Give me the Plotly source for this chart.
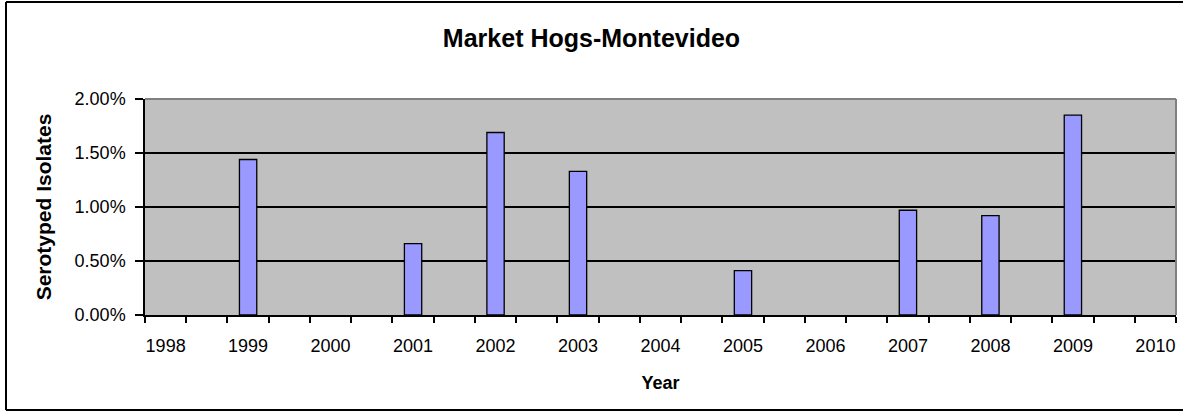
"""Market hogs - Montevideo serotype share by year."""

import plotly.graph_objects as go

# data
years = [1998, 1999, 2000, 2001, 2002, 2003, 2004, 2005, 2006, 2007, 2008, 2009, 2010]
year_labels = [str(y) for y in years]
share = [None, 0.0144, None, 0.0066, 0.0169, 0.0133, None, 0.0041, None, 0.0097, 0.0092, 0.0185, None]
y_ticks = [0.0, 0.005, 0.01, 0.015, 0.02]

FONT = "Liberation Sans, Arial, sans-serif"

trace = go.Bar(
    x=years,
    y=share,
    width=0.21,
    marker={"color": "#9999FF", "line": {"color": "black", "width": 1.3}},
)

layout = go.Layout(
    width=1183,
    height=412,
    margin={"l": 145, "r": 7, "t": 99, "b": 97},
    paper_bgcolor="white",
    plot_bgcolor="#C0C0C0",
    showlegend=False,
    font={"family": FONT, "color": "black", "size": 18},
    title={
        "text": "<b>Market Hogs-Montevideo</b>",
        "font": {"size": 25, "family": FONT},
        "x": 0.5,
        "xanchor": "center",
        "y": 1 - 38 / 412,
        "yanchor": "middle",
        "yref": "container",
    },
    xaxis={
        "range": [1997.75, 2010.25],
        "tickmode": "array",
        "tickvals": years,
        "ticktext": year_labels,
        "ticks": "outside",
        "ticklen": 6,
        "tickcolor": "rgba(0,0,0,0)",
        "ticklabelstandoff": 8,
        "showline": True,
        "linecolor": "black",
        "linewidth": 1.5,
        "showgrid": False,
        "zeroline": False,
        "minor": {
            "ticks": "outside",
            "tick0": 1997.75,
            "dtick": 0.5,
            "ticklen": 6,
            "tickcolor": "black",
            "tickwidth": 1.5,
            "showgrid": False,
        },
        "title": {"text": "<b>Year</b>", "font": {"size": 18}, "standoff": 21},
    },
    yaxis={
        "range": [0, 0.02],
        "tickmode": "array",
        "tickvals": y_ticks,
        "tickformat": ".2%",
        "ticks": "outside",
        "ticklen": 8,
        "tickcolor": "black",
        "tickwidth": 1.5,
        "ticklabelstandoff": 6,
        "showline": True,
        "linecolor": "black",
        "linewidth": 1.5,
        "showgrid": True,
        "gridcolor": "black",
        "gridwidth": 1.5,
        "zeroline": False,
        "title": {"text": "<b>Serotyped Isolates</b>", "font": {"size": 21}, "standoff": 17},
    },
)

fig = go.Figure(data=[trace], layout=layout)

# plot area border (top and right, grey)
fig.add_shape(type="line", xref="paper", yref="paper", x0=0, x1=1, y0=1, y1=1,
              line={"color": "#808080", "width": 2}, layer="above")
fig.add_shape(type="line", xref="paper", yref="paper", x0=1, x1=1, y0=0, y1=1,
              line={"color": "#808080", "width": 2}, layer="above")

# outer chart border: left, top and bottom sides (right side falls outside the picture)
left = (6 - 145) / 1031
right = (1183 - 145) / 1031
top = (315 - 2) / 216
bottom = (315 - 410) / 216
for x0, x1, y0, y1 in [(left, left, bottom, top), (left, right, top, top), (left, right, bottom, bottom)]:
    fig.add_shape(type="line", xref="paper", yref="paper", x0=x0, x1=x1, y0=y0, y1=y1,
                  line={"color": "black", "width": 2}, layer="below")

# drop the default page margin so the figure sits at the window origin
fig.write_html(
    "out.html",
    config={"displayModeBar": False},
    post_script="document.body.style.margin = '0';",
)
